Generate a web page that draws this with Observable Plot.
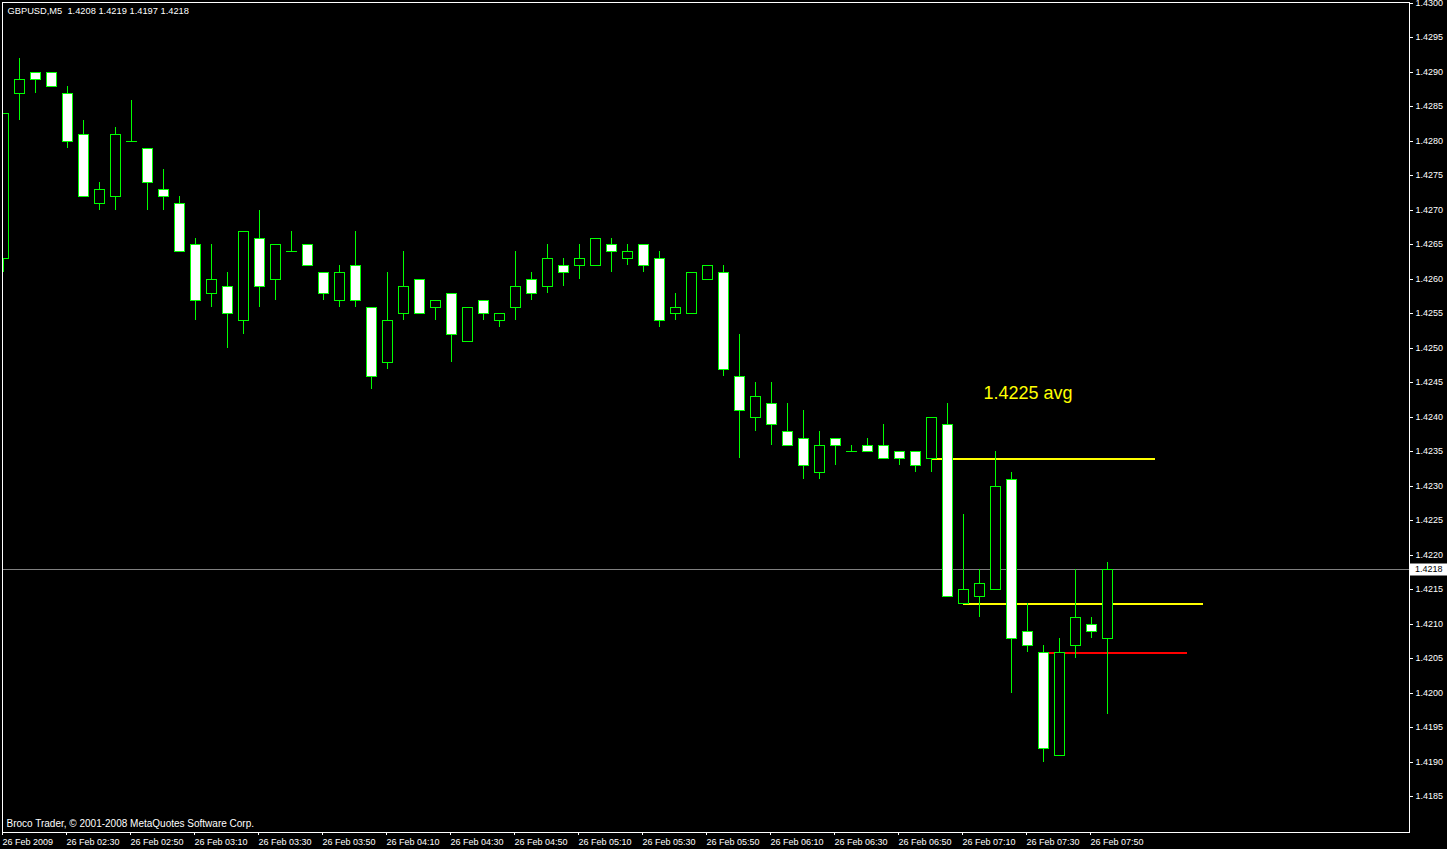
<!DOCTYPE html>
<html><head><meta charset="utf-8">
<script src="https://cdn.jsdelivr.net/npm/d3@7"></script>
<script src="https://cdn.jsdelivr.net/npm/@observablehq/plot@0.6"></script>
<style>html,body{margin:0;padding:0;background:#000;overflow:hidden}</style>
</head><body><div id="chart"></div>
<script>
const symbol = "GBPUSD,M5";
const footerText = "Broco Trader, \u00a9 2001-2008 MetaQuotes Software Corp.";
// OHLC of each 5-minute candle (26 Feb 2009, 02:10 .. 07:55)
const opens  = [1.4263,1.4287,1.4290,1.4290,1.4287,1.4281,1.4271,1.4272,1.4280,1.4279,
                1.4273,1.4271,1.4265,1.4258,1.4259,1.4254,1.4266,1.4260,1.4264,1.4265,
                1.4261,1.4257,1.4262,1.4256,1.4248,1.4255,1.4260,1.4256,1.4258,1.4251,
                1.4257,1.4254,1.4256,1.4260,1.4259,1.4262,1.4262,1.4262,1.4265,1.4263,
                1.4265,1.4263,1.4255,1.4255,1.4260,1.4261,1.4246,1.4240,1.4242,1.4238,
                1.4237,1.4232,1.4237,1.4235,1.4236,1.4236,1.4235,1.4235,1.4234,1.4239,
                1.4213,1.4214,1.4215,1.4231,1.4209,1.4206,1.4191,1.4207,1.4210,1.4208];
const highs  = [1.4284,1.4292,1.4290,1.4290,1.4288,1.4283,1.4274,1.4282,1.4286,1.4279,
                1.4276,1.4272,1.4266,1.4265,1.4261,1.4267,1.4270,1.4265,1.4267,1.4265,
                1.4261,1.4262,1.4267,1.4256,1.4261,1.4264,1.4260,1.4257,1.4258,1.4256,
                1.4257,1.4255,1.4264,1.4261,1.4265,1.4263,1.4265,1.4266,1.4266,1.4265,
                1.4265,1.4264,1.4258,1.4261,1.4262,1.4262,1.4252,1.4245,1.4245,1.4242,
                1.4241,1.4238,1.4237,1.4236,1.4237,1.4239,1.4235,1.4235,1.4240,1.4242,
                1.4226,1.4218,1.4235,1.4232,1.4213,1.4207,1.4208,1.4218,1.4211,1.4219];
const lows   = [1.4261,1.4283,1.4287,1.4288,1.4279,1.4272,1.4270,1.4270,1.4280,1.4270,
                1.4270,1.4264,1.4254,1.4256,1.4250,1.4252,1.4256,1.4257,1.4264,1.4262,
                1.4257,1.4256,1.4256,1.4244,1.4247,1.4254,1.4255,1.4254,1.4248,1.4251,
                1.4254,1.4253,1.4254,1.4257,1.4258,1.4259,1.4260,1.4262,1.4261,1.4262,
                1.4261,1.4253,1.4254,1.4255,1.4260,1.4246,1.4234,1.4238,1.4236,1.4236,
                1.4231,1.4231,1.4233,1.4235,1.4235,1.4234,1.4233,1.4232,1.4232,1.4214,
                1.4213,1.4211,1.4215,1.4200,1.4206,1.4190,1.4191,1.4205,1.4208,1.4197];
const closes = [1.4284,1.4289,1.4289,1.4288,1.4280,1.4272,1.4273,1.4281,1.4280,1.4274,
                1.4272,1.4264,1.4257,1.4260,1.4255,1.4267,1.4259,1.4265,1.4264,1.4262,
                1.4258,1.4261,1.4257,1.4246,1.4254,1.4259,1.4255,1.4257,1.4252,1.4256,
                1.4255,1.4255,1.4259,1.4258,1.4263,1.4261,1.4263,1.4266,1.4264,1.4264,
                1.4262,1.4254,1.4256,1.4261,1.4262,1.4247,1.4241,1.4243,1.4239,1.4236,
                1.4233,1.4236,1.4236,1.4235,1.4235,1.4234,1.4234,1.4233,1.4240,1.4214,
                1.4215,1.4216,1.4230,1.4208,1.4207,1.4192,1.4206,1.4211,1.4209,1.4218];
// time axis ticks (candle index) and their labels
const xTickIndex  = [0,4,8,12,16,20,24,28,32,36,40,44,48,52,56,60,64,68];
const xTickLabels = ["26 Feb 2009","26 Feb 02:30","26 Feb 02:50","26 Feb 03:10","26 Feb 03:30",
                     "26 Feb 03:50","26 Feb 04:10","26 Feb 04:30","26 Feb 04:50","26 Feb 05:10",
                     "26 Feb 05:30","26 Feb 05:50","26 Feb 06:10","26 Feb 06:30","26 Feb 06:50",
                     "26 Feb 07:10","26 Feb 07:30","26 Feb 07:50"];
const yTicks = [1.4185,1.4190,1.4195,1.4200,1.4205,1.4210,1.4215,1.4220,1.4225,1.4230,1.4235,
                1.4240,1.4245,1.4250,1.4255,1.4260,1.4265,1.4270,1.4275,1.4280,1.4285,1.4290,
                1.4295,1.4300];
// horizontal level lines drawn on the chart
const levelPrices = [1.4234, 1.4213, 1.4206];
const levelStart  = [58, 60, 65];
const levelEnd    = [72, 75, 74];
const avgText = "1.4225 avg";
const avgAnchorIndex = 61.24;
const avgAnchorPrice = 1.42428;

const levelColors = ["#ffff00", "#ffff00", "#ff0000"];
const candles = opens.map((o, i) => ({i, open: o, high: highs[i], low: lows[i], close: closes[i]}));
const bodies = candles.filter(d => d.open !== d.close);
const dojis = candles.filter(d => d.open === d.close);
const levels = levelPrices.map((p, j) => ({price: p, from: levelStart[j], to: levelEnd[j], color: levelColors[j]}));
const last = candles[candles.length - 1];
const f4 = v => v.toFixed(4);
const title = `${symbol}\u00a0 ${f4(last.open)} ${f4(last.high)} ${f4(last.low)} ${f4(last.close)}`;
const hb = 5 / 16;
const green = "#00ff00";
const font = "'Liberation Sans', Arial, sans-serif";
const crisp = "crispEdges";

const plot = Plot.plot({
  width: 1447, height: 849,
  marginLeft: 2, marginRight: 38, marginTop: 2, marginBottom: 17,
  style: {background: "#000", color: "#fff", fontFamily: font, fontSize: "9px", overflow: "visible"},
  x: {type: "linear", domain: [-0.0625, 87.875], round: true},
  y: {type: "linear", domain: [1.4300 - 829 / 69000, 1.4300 + 1 / 69000], round: true},
  color: {type: "identity"},
  marks: [
    Plot.ruleY([last.close], {y: d => d, stroke: "#808080", strokeWidth: 1, shapeRendering: crisp}),
    Plot.ruleY(levels, {y: "price", x1: "from", x2: "to", stroke: "color", strokeWidth: 2, dy: 0.5, shapeRendering: crisp}),
    Plot.ruleX(candles, {x: "i", y1: "low", y2: "high", stroke: green, strokeWidth: 1, clip: "frame", shapeRendering: crisp}),
    Plot.rect(bodies, {x1: d => d.i - hb, x2: d => d.i + hb, y1: "open", y2: "close",
      fill: d => d.close > d.open ? "#000000" : "#ffffff", stroke: green, strokeWidth: 1, clip: "frame", shapeRendering: crisp}),
    Plot.ruleY(dojis, {y: "open", x1: d => d.i - hb, x2: d => d.i + hb, stroke: green, strokeWidth: 1,
      strokeLinecap: "square", shapeRendering: crisp}),
    Plot.text([avgText], {x: () => avgAnchorIndex, y: () => avgAnchorPrice, text: d => d, textAnchor: "start",
      lineAnchor: "bottom", fill: "#ffff00", fontSize: 18, fontFamily: font}),
    Plot.frame({stroke: "#ffffff", shapeRendering: crisp}),
    Plot.axisY({anchor: "right", ticks: yTicks, tickFormat: f4, tickSize: 3, tickPadding: 3,
      label: null, fill: "#ffffff", stroke: "#ffffff", fontSize: 9, fontFamily: font}),
    Plot.axisX({anchor: "bottom", ticks: xTickIndex, tickFormat: d => xTickLabels[xTickIndex.indexOf(d)],
      tickSize: 3, tickPadding: 3, textAnchor: "start", dx: -1, label: null,
      fill: "#ffffff", stroke: "#ffffff", fontSize: 9, fontFamily: font}),
    Plot.text([title], {frameAnchor: "top-left", dx: 5, dy: 4.5, lineAnchor: "top", textAnchor: "start",
      fill: "#ffffff", fontSize: 9.3, fontFamily: font}),
    Plot.text([footerText], {frameAnchor: "bottom-left", dx: 4, dy: -5.5, lineAnchor: "bottom", textAnchor: "start",
      fill: "#ffffff", fontSize: 10, fontFamily: font})
  ]
});
document.getElementById("chart").appendChild(plot);

// current price label on the right axis
const svg = d3.select(plot);
const yPix = plot.scale("y").apply(last.close);
const g = svg.append("g");
g.append("rect").attr("x", 1410).attr("y", yPix - 5.5).attr("width", 37).attr("height", 12).attr("fill", "#ffffff");
g.append("text").attr("x", 1415).attr("y", yPix + 0.5).attr("dy", "0.32em").attr("fill", "#000000")
  .attr("text-anchor", "start").attr("font-size", 9).attr("font-family", font).text(f4(last.close));
</script>
</body></html>
